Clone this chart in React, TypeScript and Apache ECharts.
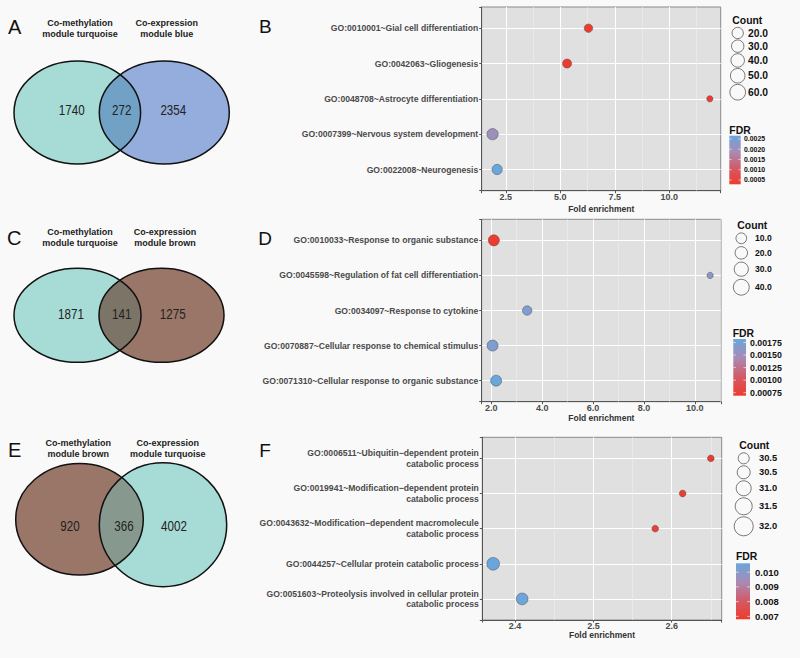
import React, { useEffect, useRef } from "react";
import * as echarts from "echarts";

const SANS = "'Liberation Sans', Arial, Helvetica, sans-serif";
const BG = "#f9f9f9";

// ---------- Venn data ----------
const vennLetters = ["A", "C", "E"];
const vennSetNames = [
  ["Co-methylation\nmodule turquoise", "Co-expression\nmodule blue"],
  ["Co-methylation\nmodule turquoise", "Co-expression\nmodule brown"],
  ["Co-methylation\nmodule brown", "Co-expression\nmodule turquoise"],
];
const vennCounts = [
  [1740, 272, 2354],
  [1871, 141, 1275],
  [920, 366, 4002],
];

// ---------- Panel B ----------
const termsB = [
  "GO:0010001~Gial cell differentiation",
  "GO:0042063~Gliogenesis",
  "GO:0048708~Astrocyte differentiation",
  "GO:0007399~Nervous system development",
  "GO:0022008~Neurogenesis",
];
const foldB = [6.29, 5.31, 11.86, 1.89, 2.1];
const countB = [35, 40, 18, 58, 50];
const fdrB = [0.0003, 0.0003, 0.00029, 0.002, 0.00266];
const countLabelsB = ["20.0", "30.0", "40.0", "50.0", "60.0"];
const fdrLabelsB = ["0.0025", "0.0020", "0.0015", "0.0010", "0.0005"];

// ---------- Panel D ----------
const termsD = [
  "GO:0010033~Response to organic substance",
  "GO:0045598~Regulation of fat cell differentiation",
  "GO:0034097~Response to cytokine",
  "GO:0070887~Cellular response to chemical stimulus",
  "GO:0071310~Cellular response to organic substance",
];
const foldD = [2.1, 10.6, 3.41, 2.05, 2.19];
const countD = [43, 5, 30, 42, 42];
const fdrD = [0.00069, 0.00162, 0.0017, 0.0017, 0.00182];
const countLabelsD = ["10.0", "20.0", "30.0", "40.0"];
const fdrLabelsD = ["0.00175", "0.00150", "0.00125", "0.00100", "0.00075"];

// ---------- Panel F ----------
const termsF = [
  "GO:0006511~Ubiquitin\u2212dependent protein\ncatabolic process",
  "GO:0019941~Modification\u2212dependent protein\ncatabolic process",
  "GO:0043632~Modification\u2212dependent macromolecule\ncatabolic process",
  "GO:0044257~Cellular protein catabolic process",
  "GO:0051603~Proteolysis involved in cellular protein\ncatabolic process",
];
const foldF = [2.65, 2.614, 2.579, 2.372, 2.409];
const countF = [30, 30, 30, 32, 31.7];
const fdrF = [0.0068, 0.0069, 0.007, 0.0106, 0.0105];
const countLabelsF = ["30.5", "30.5", "31.0", "31.5", "32.0"];
const fdrLabelsF = ["0.010", "0.009", "0.008", "0.007"];

const fdrColors = ["#ee3b2e", "#d35a66", "#a88bb5", "#6aa6dc"];

// ---------- layout (styles / positions) ----------
const vennLayout = [
  {
    L: { cx: 77.3, cy: 112.5, rx: 63.3, ry: 51.5 },
    R: { cx: 164.3, cy: 112.5, rx: 65, ry: 51.5 },
    colors: ["#a7dbd6", "#95addd", "#71a2c6"],
    titleX: [80, 166.7], titleY: 28.8, numX: [71.7, 121.7, 173.3], numY: 110,
    letter: { x: 8, y: 26.5 },
  },
  {
    L: { cx: 77.5, cy: 315.3, rx: 63.5, ry: 47 },
    R: { cx: 161.5, cy: 315.3, rx: 62.5, ry: 47 },
    colors: ["#a7dbd6", "#9a7668", "#7c7466"],
    titleX: [80, 165], titleY: 237.2, numX: [71, 121.7, 172.7], numY: 314.3,
    letter: { x: 7, y: 237.5 },
  },
  {
    L: { cx: 79.5, cy: 519.2, rx: 63.8, ry: 55.8 },
    R: { cx: 163, cy: 524.7, rx: 63.7, ry: 62 },
    colors: ["#9a7668", "#a7dbd6", "#87998e"],
    titleX: [78.3, 167.7], titleY: 448.7, numX: [70, 124, 174], numY: 526.5,
    letter: { x: 8, y: 450 },
  },
];

const panels = [
  {
    letter: "B", terms: termsB, fold: foldB, count: countB, fdr: fdrB,
    countLabels: countLabelsB, fdrLabels: fdrLabelsB, step: 2.5,
    grid: { left: 481.7, top: 7, width: 239, height: 183.7 }, nameGap: 14,
    sizeRef: [18, 6.3, 58, 11.3], letterPos: { x: 259, y: 26.7 },
    cl: { titleX: 732.3, titleY: 20.7, cx: 737.7, firstY: 33, gap: 1.3, labelX: 748, font: 10.3, d: [11.3, 15.7] },
    fl: { titleX: 729.3, titleY: 130, barX: 729.3, barW: 11.4, top: 135.7, bottom: 184.3, labelX: 744, font: 6.9 },
  },
  {
    letter: "D", terms: termsD, fold: foldD, count: countD, fdr: fdrD,
    countLabels: countLabelsD, fdrLabels: fdrLabelsD, step: 2,
    grid: { left: 481.7, top: 219.3, width: 239.3, height: 182.4 }, nameGap: 12,
    sizeRef: [5, 6.3, 43, 11.1], letterPos: { x: 258.3, y: 238.3 },
    cl: { titleX: 737.3, titleY: 225, cx: 741.3, firstY: 238.3, gap: 3, labelX: 755, font: 8.6, d: [10.7, 15.9] },
    fl: { titleX: 732.7, titleY: 333.3, barX: 733.3, barW: 12.7, top: 339, bottom: 395.7, labelX: 750, font: 8.8 },
  },
  {
    letter: "F", terms: termsF, fold: foldF, count: countF, fdr: fdrF,
    countLabels: countLabelsF, fdrLabels: fdrLabelsF, step: 0.1,
    grid: { left: 482.3, top: 437.3, width: 239.4, height: 182.7 }, nameGap: 10.4,
    sizeRef: [30, 6.7, 32, 12.7], letterPos: { x: 259.3, y: 450 },
    cl: { titleX: 739.3, titleY: 445, cx: 743.7, firstY: 458.3, gap: 2, labelX: 759, font: 9.3, d: [11, 19] },
    fl: { titleX: 736, titleY: 556, barX: 736, barW: 14, top: 563.3, bottom: 619.3, labelX: 755, font: 9.5 },
  },
];

type Ell = { cx: number; cy: number; rx: number; ry: number };
const inside = (e: Ell, x: number, y: number) =>
  ((x - e.cx) / e.rx) ** 2 + ((y - e.cy) / e.ry) ** 2 <= 1;

function lens(a: Ell, b: Ell, n = 240) {
  const pts: number[][] = [];
  for (let k = 0; k <= n; k++) {
    const t = -Math.PI / 2 + (Math.PI * k) / n;
    const x = a.cx + a.rx * Math.cos(t), y = a.cy + a.ry * Math.sin(t);
    if (inside(b, x, y)) pts.push([x, y]);
  }
  for (let k = 0; k <= n; k++) {
    const t = Math.PI / 2 + (Math.PI * k) / n;
    const x = b.cx + b.rx * Math.cos(t), y = b.cy + b.ry * Math.sin(t);
    if (inside(a, x, y)) pts.push([x, y]);
  }
  return pts;
}

function txt(x: number, y: number, text: string, o: any = {}) {
  return {
    type: "text",
    x, y,
    scaleX: o.scaleX || 1,
    silent: true,
    style: {
      text,
      fill: o.fill || "#111",
      fontSize: o.fontSize || 10,
      fontWeight: o.fontWeight || "normal",
      fontFamily: o.fontFamily || SANS,
      align: o.align || "left",
      textAlign: o.align || "left",
      verticalAlign: "middle",
      textVerticalAlign: "middle",
      lineHeight: o.lineHeight,
    },
  };
}

function buildOption() {
  const graphic: any[] = [];

  // Venn diagrams
  vennLayout.forEach((v, i) => {
    const [cL, cR, cO] = v.colors;
    graphic.push({ type: "ellipse", silent: true, shape: v.L, style: { fill: cL, stroke: "none" } });
    graphic.push({ type: "ellipse", silent: true, shape: v.R, style: { fill: cR, stroke: "none" } });
    graphic.push({ type: "polygon", silent: true, shape: { points: lens(v.L, v.R) }, style: { fill: cO, stroke: "none" } });
    graphic.push({ type: "ellipse", silent: true, shape: v.L, style: { fill: "none", stroke: "#111", lineWidth: 1.5 } });
    graphic.push({ type: "ellipse", silent: true, shape: v.R, style: { fill: "none", stroke: "#111", lineWidth: 1.5 } });
    vennSetNames[i].forEach((name, j) => {
      graphic.push(txt(v.titleX[j], v.titleY, name, { align: "center", fontSize: 9, fontWeight: "bold", lineHeight: 11, fill: "#222" }));
    });
    vennCounts[i].forEach((c, j) => {
      graphic.push(txt(v.numX[j], v.numY, String(c), { align: "center", fontSize: 14.5, scaleX: 0.8, fill: "#222" }));
    });
    graphic.push(txt(v.letter.x, v.letter.y, vennLetters[i], { fontSize: 20, fill: "#111" }));
  });

  const grids: any[] = [];
  const xAxes: any[] = [];
  const yAxes: any[] = [];
  const series: any[] = [];
  const visualMaps: any[] = [];

  panels.forEach((p, i) => {
    const n = p.terms.length;
    const fmin = Math.min(...p.fold), fmax = Math.max(...p.fold);
    const pad = 0.05 * (fmax - fmin);
    const xmin = fmin - pad, xmax = fmax + pad;
    const step = p.step;
    const minors: number[] = [];
    for (let k = Math.floor(xmin / step) - 1; k <= Math.ceil(xmax / step) + 1; k++) {
      const m = (k + 0.5) * step;
      if (m > xmin && m < xmax) minors.push(m);
    }
    const [c0, d0, c1, d1] = p.sizeRef;
    const sizeFn = (c: number) => d0 + ((c - c0) * (d1 - d0)) / (c1 - c0);

    grids.push({
      ...p.grid,
      show: true,
      backgroundColor: "#e0e0e0",
      borderColor: "#8a8a8a",
      borderWidth: 1,
      containLabel: false,
      outerBoundsMode: "none",
    });

    const axisTextBase = { color: "#4a4a4a", fontWeight: "bold", fontFamily: SANS };
    xAxes.push({
      type: "value",
      gridIndex: i,
      min: xmin,
      max: xmax,
      minInterval: step,
      maxInterval: step,
      splitNumber: 5,
      axisLine: { show: true, onZero: false, lineStyle: { color: "#555", width: 1 } },
      axisTick: { show: true, length: 2.5, lineStyle: { color: "#555" } },
      axisLabel: {
        ...axisTextBase,
        fontSize: 9,
        margin: 1.5,
        formatter: (v: number) => {
          const k = v / step;
          return Math.abs(k - Math.round(k)) < 1e-6 ? v.toFixed(1) : "";
        },
      },
      splitLine: { show: true, showMinLine: false, showMaxLine: false, lineStyle: { color: "#ffffff", width: 1 } },
      name: "Fold enrichment",
      nameLocation: "middle",
      nameGap: p.nameGap,
      nameMoveOverlap: false,
      nameTextStyle: { color: "#333", fontSize: 8.5, fontWeight: "bold", fontFamily: SANS },
    });

    yAxes.push({
      type: "value",
      gridIndex: i,
      inverse: true,
      min: -0.6,
      max: n - 1 + 0.6,
      minInterval: 1,
      maxInterval: 1,
      axisLine: { show: true, onZero: false, lineStyle: { color: "#555", width: 1 } },
      axisTick: { show: true, length: 2.5, lineStyle: { color: "#555" } },
      axisLabel: {
        ...axisTextBase,
        fontSize: 8.6,
        lineHeight: 10.5,
        margin: 3.5,
        align: "right",
        formatter: (v: number) => (Number.isInteger(v) && p.terms[v] ? p.terms[v] : ""),
      },
      splitLine: { show: true, showMinLine: false, showMaxLine: false, lineStyle: { color: "#ffffff", width: 1 } },
    });

    series.push({
      type: "scatter",
      xAxisIndex: i,
      yAxisIndex: i,
      z: 3,
      silent: true,
      data: p.terms.map((_, k) => [p.fold[k], k, p.count[k], p.fdr[k]]),
      symbolSize: (val: number[]) => sizeFn(val[2]),
      itemStyle: { borderColor: "rgba(60,60,60,0.6)", borderWidth: 0.7, opacity: 1 },
      markLine: {
        silent: true,
        z: 1,
        symbol: "none",
        label: { show: false },
        lineStyle: { color: "#efefef", width: 0.6, type: "solid" },
        data: minors.map((m) => ({ xAxis: m })),
      },
    });

    const vmin = Math.min(...p.fdr), vmax = Math.max(...p.fdr);
    visualMaps.push({
      type: "continuous",
      show: false,
      seriesIndex: i,
      dimension: 3,
      min: vmin,
      max: vmax,
      inRange: { color: fdrColors },
    });

    // panel letter
    graphic.push(txt(p.letterPos.x, p.letterPos.y, p.letter, { fontSize: 19, fill: "#111" }));

    // Count legend
    const cl = p.cl;
    graphic.push(txt(cl.titleX, cl.titleY, "Count", { fontSize: 10.4, fontWeight: "bold", fill: "#111" }));
    const nL = p.countLabels.length;
    let yPrev = cl.firstY, dPrev = cl.d[0];
    p.countLabels.forEach((lab, k) => {
      const d = cl.d[0] + ((cl.d[1] - cl.d[0]) * k) / (nL - 1);
      const y = k === 0 ? cl.firstY : yPrev + (dPrev + d) / 2 + cl.gap;
      graphic.push({
        type: "circle",
        silent: true,
        shape: { cx: cl.cx, cy: y, r: d / 2 },
        style: { fill: "rgba(0,0,0,0)", stroke: "#555", lineWidth: 0.8 },
      });
      graphic.push(txt(cl.labelX, y, lab, { fontSize: cl.font, fontWeight: "bold", fill: "#111" }));
      yPrev = y;
      dPrev = d;
    });

    // FDR legend
    const fl = p.fl;
    graphic.push(txt(fl.titleX, fl.titleY, "FDR", { fontSize: 10.4, fontWeight: "bold", fill: "#111" }));
    graphic.push({
      type: "rect",
      silent: true,
      shape: { x: fl.barX, y: fl.top, width: fl.barW, height: fl.bottom - fl.top },
      style: {
        fill: new echarts.graphic.LinearGradient(
          0, 1, 0, 0,
          fdrColors.map((c, k) => ({ offset: k / (fdrColors.length - 1), color: c }))
        ),
      },
    });
    p.fdrLabels.forEach((lab) => {
      const v = parseFloat(lab);
      const y = fl.top + ((vmax - v) / (vmax - vmin)) * (fl.bottom - fl.top);
      graphic.push({ type: "line", silent: true, shape: { x1: fl.barX, y1: y, x2: fl.barX + fl.barW * 0.2, y2: y }, style: { stroke: "#fff", lineWidth: 0.6 } });
      graphic.push({ type: "line", silent: true, shape: { x1: fl.barX + fl.barW * 0.8, y1: y, x2: fl.barX + fl.barW, y2: y }, style: { stroke: "#fff", lineWidth: 0.6 } });
      graphic.push(txt(fl.labelX, y, lab, { fontSize: fl.font, fontWeight: "bold", fill: "#111" }));
    });
  });

  return {
    animation: false,
    backgroundColor: BG,
    grid: grids,
    xAxis: xAxes,
    yAxis: yAxes,
    series,
    visualMap: visualMaps,
    graphic: { elements: graphic },
  };
}

export default function App() {
  const ref = useRef<HTMLDivElement>(null);
  useEffect(() => {
    if (!ref.current) return;
    const chart = echarts.init(ref.current, null, { renderer: "svg" });
    chart.setOption(buildOption() as any);
    return () => chart.dispose();
  }, []);
  return (
    <div
      ref={ref}
      style={{ position: "fixed", left: 0, top: 0, width: 800, height: 658, background: BG }}
    />
  );
}
